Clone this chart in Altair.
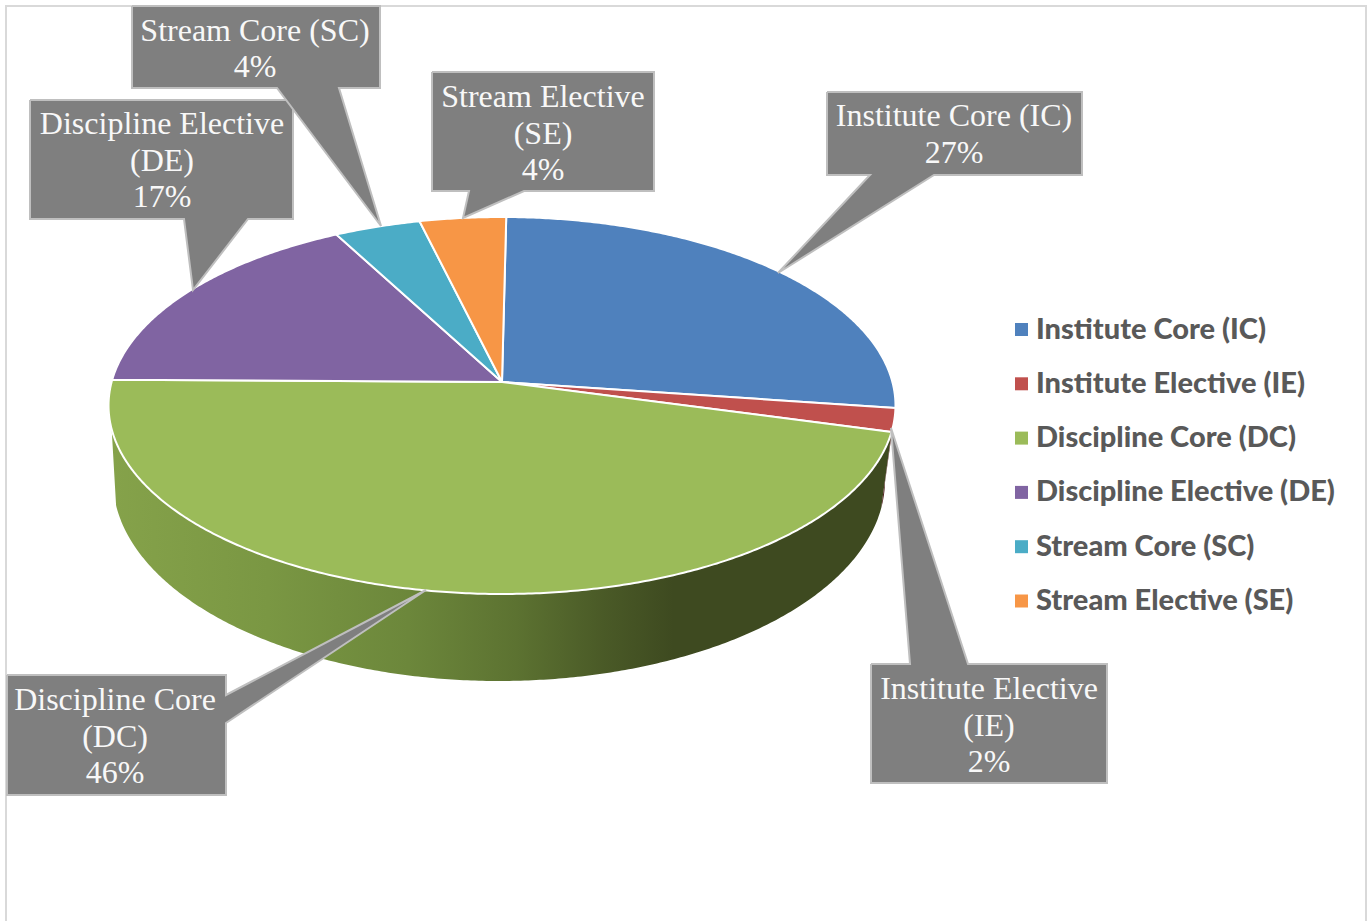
import math
import altair as alt
import pandas as pd

# Curriculum credit share by course category, clockwise from twelve o'clock
categories = ["Institute Core (IC)", "Institute Elective (IE)", "Discipline Core (DC)",
              "Discipline Elective (DE)", "Stream Core (SC)", "Stream Elective (SE)"]
shares = [27, 2, 46, 17, 4, 4]
slice_colors = ["#4f81bd", "#c0504d", "#9bbb59", "#8064a2", "#4bacc6", "#f79646"]

# Wrapped label text for each callout (the percentage line is appended from shares)
callout_lines = [["Institute Core (IC)"], ["Institute Elective", "(IE)"], ["Discipline Core", "(DC)"],
                 ["Discipline Elective", "(DE)"], ["Stream Core (SC)"], ["Stream Elective", "(SE)"]]

# Pie geometry: a tilted disc drawn with perspective, so the hub sits above the rim's centre
TOP = dict(cx=502, cy=405.5, a=390.4, b=188.5)
BOTTOM = dict(cx=499, cy=480, a=383, b=201)
PERSPECTIVE = 23.5 / 188.5
FIRST_SLICE_DEG = 0.7
WALL_LEFT_DEG = 255.7

# Callout layout: box (x0, y0, x1, y1), pointer base and tip, text centre and first baseline
callout_layout = [
    dict(box=(827, 92, 1082, 175), side="bottom", base=(870, 934), tip=(778, 273), tx=954, ty=126),
    dict(box=(871, 664, 1107, 783), side="top", base=(910, 968), tip=(891, 428), tx=989, ty=699),
    dict(box=(7, 675, 226, 795), side="right", base=(695, 723), tip=(426, 590), tx=115, ty=710),
    dict(box=(30, 100, 293, 219), side="bottom", base=(184, 248), tip=(193, 290), tx=162, ty=134),
    dict(box=(132, 6, 380, 88), side="bottom", base=(277, 339), tip=(381, 226), tx=255, ty=40.5),
    dict(box=(432, 72, 654, 191), side="bottom", base=(469, 524), tip=(463, 218), tx=543, ty=107),
]


def rim(deg, ring):
    """Screen position of the point at a clockwise angle on a rim of the disc."""
    t = math.radians(deg)
    u, v = math.sin(t), math.cos(t)
    d = 1 + PERSPECTIVE * v
    return (ring["cx"] + ring["a"] * u / d,
            ring["cy"] - ring["b"] * (v + PERSPECTIVE) / d)


def span(start, end, step=0.5):
    n = max(2, int(abs(end - start) / step) + 1)
    return [start + (end - start) * k / (n - 1) for k in range(n)]


# Slice boundaries in degrees, accumulated from the shares
edges = [FIRST_SLICE_DEG]
for s in shares:
    edges.append(edges[-1] + s * 3.6)
edges[-1] = 360 + FIRST_SLICE_DEG

hub = (TOP["cx"], TOP["cy"] - TOP["b"] * PERSPECTIVE)

rows = []
for name, start, end in zip(categories, edges[:-1], edges[1:]):
    pts = [hub] + [rim(a, TOP) for a in span(start, end)] + [hub]
    rows += [dict(category=name, i=i, x=p[0], y=p[1]) for i, p in enumerate(pts)]
slices = pd.DataFrame(rows)


def wall(start, end):
    pts = [rim(a, TOP) for a in span(start, end)] + [rim(a, BOTTOM) for a in span(end, start)]
    pts.append(pts[0])
    return pd.DataFrame([dict(i=i, x=p[0], y=p[1]) for i, p in enumerate(pts)])


wall_dc = wall(edges[2], WALL_LEFT_DEG)
wall_ie = wall(edges[1], edges[2])

box_rows, text_rows = [], []
for name, share, lines, lay in zip(categories, shares, callout_lines, callout_layout):
    x0, y0, x1, y1 = lay["box"]
    b0, b1 = lay["base"]
    tip = lay["tip"]
    if lay["side"] == "bottom":
        outline = [(x0, y0), (x1, y0), (x1, y1), (b1, y1), tip, (b0, y1), (x0, y1)]
    elif lay["side"] == "top":
        outline = [(x0, y0), (b0, y0), tip, (b1, y0), (x1, y0), (x1, y1), (x0, y1)]
    else:
        outline = [(x0, y0), (x1, y0), (x1, b0), tip, (x1, b1), (x1, y1), (x0, y1)]
    outline.append(outline[0])
    box_rows += [dict(category=name, i=i, x=p[0], y=p[1]) for i, p in enumerate(outline)]
    for k, line in enumerate(lines + [f"{share}%"]):
        text_rows.append(dict(line=line, x=lay["tx"], y=lay["ty"] + k * 36.6))
callouts = pd.DataFrame(box_rows)
callout_text = pd.DataFrame(text_rows)

frame = pd.DataFrame([dict(i=0, x=6, y=930), dict(i=1, x=6, y=6), dict(i=2, x=1366, y=6), dict(i=3, x=1366, y=930)])

x_enc = alt.X("x:Q", scale=alt.Scale(domain=[0, 1372], nice=False, zero=False), axis=None)
y_enc = alt.Y("y:Q", scale=alt.Scale(domain=[921, 0], nice=False, zero=False), axis=None)

frame_layer = alt.Chart(frame).mark_line(stroke="#d9d9d9", strokeWidth=2).encode(x_enc, y_enc, order="i:Q")

wall_fill = alt.Gradient(
    gradient="linear", x1=0, y1=0, x2=1, y2=0,
    stops=[alt.GradientStop(color="#85a24a", offset=0),
           alt.GradientStop(color="#7a9743", offset=0.2),
           alt.GradientStop(color="#6c873b", offset=0.38),
           alt.GradientStop(color="#5c7231", offset=0.52),
           alt.GradientStop(color="#4a5a27", offset=0.63),
           alt.GradientStop(color="#3e4a20", offset=0.72),
           alt.GradientStop(color="#3e4a20", offset=1)],
)
wall_dc_layer = alt.Chart(wall_dc).mark_line(fill=wall_fill, strokeWidth=0).encode(x_enc, y_enc, order="i:Q")
wall_ie_layer = alt.Chart(wall_ie).mark_line(fill="#4f1f1e", strokeWidth=0).encode(x_enc, y_enc, order="i:Q")

slice_layer = alt.Chart(slices).mark_line(stroke="white", strokeWidth=2, strokeJoin="round").encode(
    x_enc, y_enc, order="i:Q",
    fill=alt.Fill(
        "category:N",
        scale=alt.Scale(domain=categories, range=slice_colors),
        sort=categories,
        legend=alt.Legend(
            title=None, orient="none", legendX=1007, legendY=315,
            symbolType="square", symbolSize=169, symbolStrokeWidth=0,
            labelFont="Lato", labelFontWeight=900, labelFontSize=29, labelColor="#595959",
            labelLimit=400, labelOffset=0, rowPadding=24.3,
        ),
    ),
)

callout_layer = alt.Chart(callouts).mark_line(
    fill="#7f7f7f", stroke="#bfbfbf", strokeWidth=2, strokeJoin="miter"
).encode(x_enc, y_enc, order="i:Q", detail="category:N")

text_layer = alt.Chart(callout_text).mark_text(
    font="Liberation Serif", fontSize=32, color="#f8f8f8", align="center", baseline="alphabetic"
).encode(x_enc, y_enc, text="line:N")

chart = alt.layer(
    frame_layer, wall_dc_layer, wall_ie_layer, slice_layer, callout_layer, text_layer
).properties(
    width=1372, height=921, padding=0,
    autosize=alt.AutoSizeParams(type="none"),
    background="white",
).configure_view(stroke=None)

chart.save("out.html", embed_options={"renderer": "svg", "actions": False})
